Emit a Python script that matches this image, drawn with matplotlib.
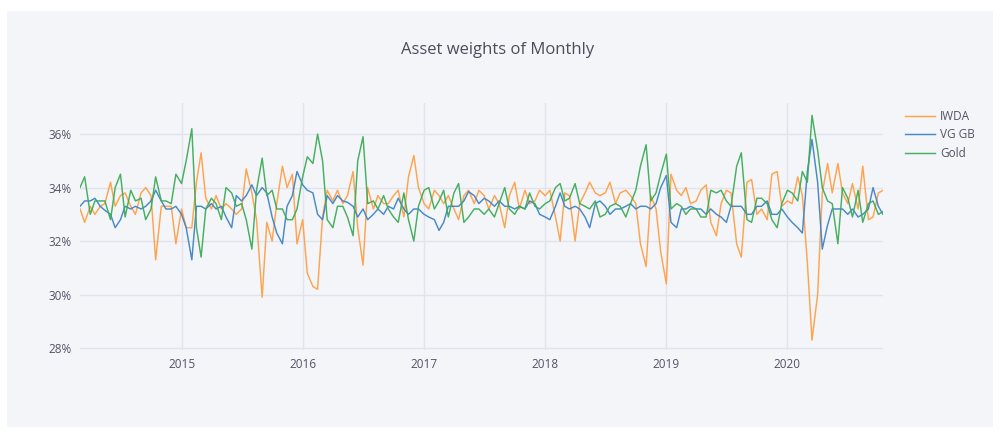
import pandas as pd
import matplotlib
matplotlib.use('Agg')
from matplotlib import pyplot as plt
from matplotlib.patches import Rectangle
from matplotlib.ticker import FuncFormatter
import matplotlib.dates as mdates

# semi-monthly readings (weights in %)
dates = pd.date_range('2014-03-01', periods=160, freq='SMS')

iwda = [
    33.2, 32.7, 33.3, 33.0, 33.3, 33.4, 34.2, 33.3, 33.7, 33.8,
    33.3, 33.0, 33.8, 34.0, 33.7, 31.3, 33.3, 33.3, 33.3, 31.9,
    33.2, 32.5, 32.5, 34.2, 35.3, 33.6, 33.2, 33.7, 33.2, 33.4,
    33.2, 33.0, 33.2, 34.7, 33.8, 32.8, 29.9, 32.7, 32.0, 33.4,
    34.8, 34.0, 34.5, 31.9, 32.8, 30.8, 30.3, 30.2, 32.9, 33.9,
    33.5, 33.9, 33.4, 33.7, 34.6, 32.5, 31.1, 34.0, 33.2, 33.7,
    33.4, 33.4, 33.7, 33.9, 32.9, 34.4, 35.2, 34.0, 33.4, 33.2,
    33.9, 33.7, 33.4, 33.7, 33.2, 32.8, 33.7, 33.9, 33.4, 33.9,
    33.7, 33.2, 33.7, 33.4, 32.5, 33.7, 34.2, 33.2, 33.9, 33.4,
    33.5, 33.9, 33.7, 33.9, 32.9, 32.0, 33.8, 33.7, 32.0, 33.4,
    33.8, 34.2, 33.8, 33.7, 33.8, 34.2, 33.4, 33.8, 33.9, 33.7,
    33.4, 31.9, 31.05, 33.7, 33.2, 31.6, 30.4, 34.5, 33.9, 33.7,
    34.0, 33.4, 33.5, 33.9, 34.1, 32.7, 32.2, 33.4, 33.9, 33.8,
    31.9, 31.4, 34.2, 34.3, 33.0, 33.2, 32.8, 34.5, 34.6, 33.3,
    33.5, 33.4, 34.4, 33.7, 31.2, 28.3, 30.0, 33.8, 34.9, 33.8,
    34.9, 33.8, 33.4, 34.15, 33.2, 34.8, 32.8, 32.9, 33.8, 33.9,
]

vg_gb = [
    33.3, 33.5, 33.5, 33.6, 33.3, 33.15, 33.0, 32.5, 32.8, 33.3,
    33.2, 33.3, 33.2, 33.3, 33.5, 33.9, 33.5, 33.2, 33.2, 33.3,
    33.0, 32.5, 31.3, 33.3, 33.3, 33.2, 33.4, 33.2, 33.3, 32.9,
    32.5, 33.7, 33.5, 33.7, 34.1, 33.7, 34.0, 33.8, 32.9, 32.3,
    31.9, 33.3, 33.7, 34.6, 34.1, 33.9, 33.8, 33.0, 32.8, 33.7,
    33.4, 33.7, 33.5, 33.45, 33.3, 32.9, 33.2, 32.8, 33.0, 33.2,
    33.0, 33.3, 33.2, 33.6, 33.2, 33.0, 33.2, 33.2, 33.0, 32.9,
    32.8, 32.4, 32.7, 33.3, 33.3, 33.3, 33.5, 33.85, 33.7, 33.4,
    33.6, 33.5, 33.3, 33.5, 33.3, 33.3, 33.2, 33.3, 33.2, 33.5,
    33.4, 33.0, 32.9, 32.8, 33.3, 33.8, 33.3, 33.2, 33.3, 33.2,
    32.9, 32.5, 33.4, 33.5, 33.3, 33.0, 33.2, 33.2, 33.3, 33.4,
    33.2, 33.3, 33.3, 33.2, 33.4, 34.0, 34.45, 32.7, 32.5, 33.2,
    33.2, 33.3, 33.2, 33.2, 33.0, 33.2, 33.0, 32.9, 32.7, 33.3,
    33.3, 33.3, 33.0, 33.0, 33.3, 33.3, 33.5, 33.0, 33.0, 33.2,
    32.9, 32.7, 32.5, 32.3, 34.6, 35.8, 34.2, 31.7, 32.6, 33.2,
    33.2, 33.2, 33.0, 33.2, 32.9, 33.0, 33.2, 34.0, 33.3, 33.0,
]

gold = [
    34.0, 34.4, 33.0, 33.5, 33.5, 33.5, 32.8, 34.0, 34.5, 32.9,
    33.9, 33.5, 33.6, 32.8, 33.2, 34.4, 33.5, 33.5, 33.4, 34.5,
    34.15, 35.0, 36.2, 32.5, 31.4, 33.2, 33.6, 33.4, 32.8, 34.0,
    33.8, 33.3, 33.4, 32.8, 31.7, 33.9, 35.1, 33.7, 33.9, 33.2,
    33.2, 32.8, 32.8, 33.2, 34.4, 35.15, 34.9, 36.0, 35.0, 32.8,
    32.5, 33.3, 33.3, 32.9, 32.2, 35.0, 35.9, 33.4, 33.5, 33.2,
    33.7, 33.2, 32.9, 32.7, 33.8, 32.8, 32.0, 33.3, 33.9, 34.0,
    33.2, 33.5, 33.9, 32.9, 33.8, 34.15, 32.7, 32.9, 33.2, 33.2,
    33.0, 33.2, 32.9, 33.4, 34.0, 33.2, 33.0, 33.3, 33.2, 33.8,
    33.3, 33.2, 33.4, 33.5, 34.0, 34.15, 33.5, 33.6, 34.15, 33.4,
    33.3, 33.2, 33.5, 32.9, 33.0, 33.3, 33.4, 33.3, 32.9, 33.4,
    33.9, 34.8, 35.6, 33.5, 33.8, 34.5, 35.25, 33.2, 33.4, 33.3,
    33.0, 33.2, 33.2, 32.9, 32.9, 33.9, 33.8, 33.9, 33.5, 33.3,
    34.8, 35.3, 32.8, 32.7, 33.6, 33.6, 33.4, 32.8, 32.5, 33.4,
    33.9, 33.8, 33.5, 34.6, 34.2, 36.7, 35.4, 34.0, 33.5, 33.4,
    31.9, 34.0, 33.6, 32.9, 33.9, 32.7, 33.4, 33.5, 33.0, 33.1,
]

series = [
    ('IWDA', iwda, '#ff9f45'),
    ('VG GB', vg_gb, '#3f84c6'),
    ('Gold', gold, '#3dab58'),
]

bg = '#f4f5f9'
grid = '#e2e4ec'
txt = '#505464'

plt.rcParams['font.family'] = ['Open Sans', 'DejaVu Sans']

fig = plt.figure(figsize=(10, 4.34), dpi=100, facecolor='white')
fig.patches.append(Rectangle((0.007, 0.016), 0.986, 0.959, transform=fig.transFigure,
                             facecolor=bg, edgecolor='none', zorder=-5))

ax = fig.add_axes([0.080, 1 - 350 / 434, 0.803, 247 / 434])
ax.set_facecolor(bg)

for name, vals, color in series:
    ax.plot(dates, vals, color=color, lw=1.05, label=name, alpha=0.95)

ax.set_xlim(dates[0], dates[-1])
ax.set_ylim(27.93, 37.16)
ax.set_yticks([28, 30, 32, 34, 36])
ax.yaxis.set_major_formatter(FuncFormatter(lambda v, p: f'{v:.0f}%'))
ax.xaxis.set_major_locator(mdates.YearLocator())
ax.xaxis.set_major_formatter(mdates.DateFormatter('%Y'))

ax.grid(True, color=grid, lw=1)
ax.set_axisbelow(True)
for s in ax.spines.values():
    s.set_visible(False)
ax.tick_params(length=0, labelsize=8.5, colors=txt, pad=6)

fig.text(0.498, 1 - 50 / 434, 'Asset weights of Monthly', ha='center', va='center',
         fontsize=12, color='#4a4e5c')

leg = ax.legend(loc='upper left', bbox_to_anchor=(1.018, 1.0), frameon=False,
                fontsize=8.5, handlelength=2.6, handletextpad=0.4, labelspacing=0.45,
                borderaxespad=0.2)
for t in leg.get_texts():
    t.set_color(txt)

fig.savefig('out.png', dpi=100, facecolor='white')
